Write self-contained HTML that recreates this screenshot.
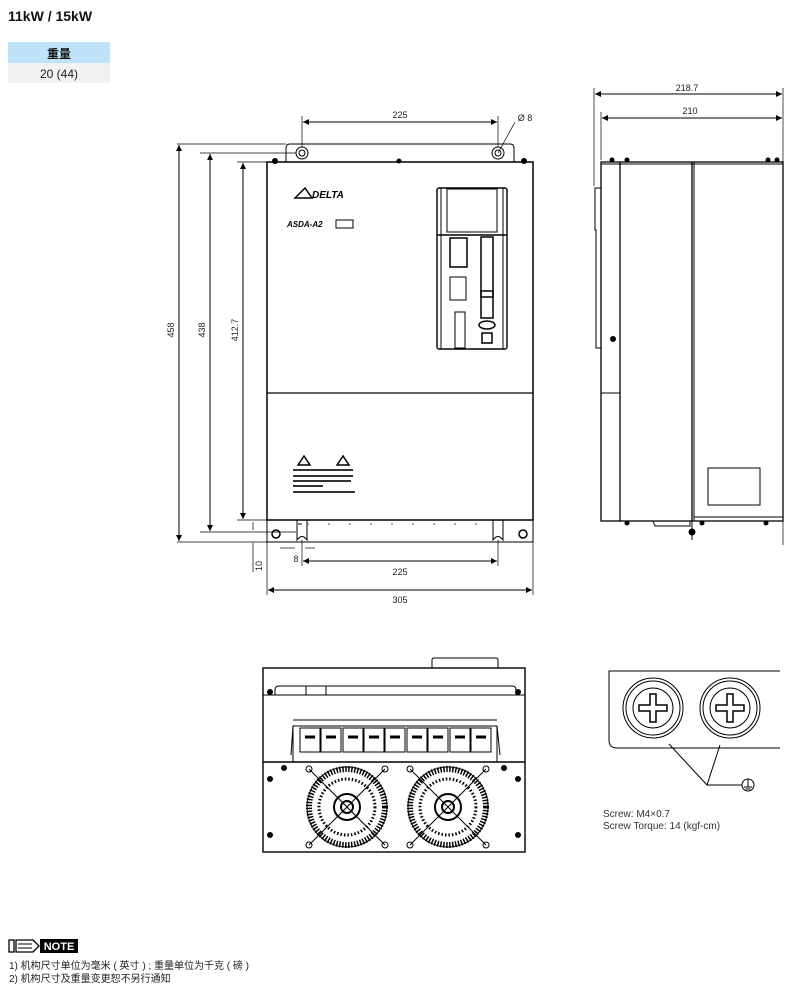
<!DOCTYPE html>
<html><head><meta charset="utf-8"><style>
html,body{margin:0;padding:0;background:#fff;}
body{width:800px;height:994px;overflow:hidden;position:relative;font-family:"Liberation Sans","Noto Sans CJK SC",sans-serif;}
</style></head><body>
<svg width="800" height="994" viewBox="0 0 800 994" xmlns="http://www.w3.org/2000/svg" style="position:absolute;left:0;top:0">
<defs>
<marker id="a" viewBox="0 0 10 10" refX="10" refY="5" markerWidth="8" markerHeight="6" orient="auto-start-reverse" markerUnits="userSpaceOnUse"><path d="M0,0L10,5L0,10z" fill="#000"/></marker>
</defs>
<g font-family="Liberation Sans,Noto Sans CJK SC,sans-serif">
<text x="8" y="21" font-size="14" font-weight="bold" fill="#111">11kW / 15kW</text>
<rect x="8" y="42" width="102" height="21" fill="#bfe3f8"/>
<rect x="8" y="63" width="102" height="20" fill="#f2f2f2"/>
<text x="59" y="58" font-size="12" font-weight="bold" text-anchor="middle" fill="#111">重量</text>
<text x="59" y="78" font-size="12" text-anchor="middle" fill="#222">20 (44)</text>
</g>

<g stroke="#000" fill="none" stroke-width="1">
<!-- front view -->
<path d="M286,162 V148 Q286,144 290,144 H510 Q514,144 514,148 V162"/>
<circle cx="302" cy="153" r="6"/><circle cx="302" cy="153" r="3"/>
<circle cx="498" cy="153" r="6"/><circle cx="498" cy="153" r="3"/>
<rect x="267" y="162" width="266" height="358" stroke-width="1.5"/>
<line x1="267" y1="393" x2="533" y2="393" stroke-width="1.3"/>
<path d="M267,520 V542 H533 V520"/>
<path d="M297,520 V540 Q302,533 307,540 V520" />
<path d="M493,520 V540 Q498,533 503,540 V520" />
<line x1="298" y1="524" x2="302" y2="524"/>
<line x1="307" y1="524" x2="492" y2="524" stroke="#555" stroke-dasharray="2,19"/>
<circle cx="276" cy="534" r="4" stroke-width="1.5"/><circle cx="523" cy="534" r="4" stroke-width="1.5"/>
<rect x="437" y="188" width="70" height="161" rx="2" stroke-width="1.4"/>
<line x1="441" y1="188" x2="441" y2="349"/><line x1="503" y1="188" x2="503" y2="349"/>
<rect x="447" y="189" width="50" height="43"/>
<line x1="437" y1="235" x2="507" y2="235" stroke-width="1.4"/>
<rect x="450" y="238" width="17" height="29" stroke-width="1.5"/>
<rect x="481" y="237" width="12" height="60" stroke-width="1.5"/>
<rect x="450" y="277" width="16" height="23"/>
<rect x="481" y="291" width="12" height="27" stroke-width="1.5"/>
<rect x="455" y="312" width="10" height="36"/>
<ellipse cx="487" cy="325" rx="8" ry="4" stroke-width="1.5"/>
<rect x="482" y="333" width="10" height="10" stroke-width="1.5"/>
<path d="M295,198 L305,188 L312,198 Z" stroke-width="1.5"/>
<rect x="311" y="203" width="0" height="0"/>
<rect x="336" y="220" width="17" height="8"/>
<circle cx="275" cy="161" r="2.5" fill="#000"/><circle cx="399" cy="161" r="2" fill="#000"/><circle cx="524" cy="161" r="2.5" fill="#000"/>
<path d="M298,465 L304,456 L310,465 Z" stroke-width="1.5"/><path d="M337,465 L343,456 L349,465 Z" stroke-width="1.5"/>
</g>
<g font-family="Liberation Sans,sans-serif" fill="#000">
<text x="312" y="198" font-size="10" font-weight="bold" font-style="italic">DELTA</text>
<text x="287" y="227" font-size="8" font-style="italic" font-weight="bold">ASDA-A2</text>
<g fill="#333"><rect x="293" y="469" width="60" height="2"/><rect x="293" y="475" width="60" height="2"/><rect x="293" y="480" width="58" height="2"/><rect x="293" y="485" width="30" height="2"/><rect x="293" y="491" width="62" height="2"/></g>
</g>

<!-- front dimensions -->
<g stroke="#000" stroke-width="1" fill="none">
<line x1="177" y1="144" x2="286" y2="144" stroke-width=".7"/>
<line x1="200" y1="153" x2="296" y2="153" stroke-width=".7"/>
<line x1="237" y1="162" x2="267" y2="162" stroke-width=".7"/>
<line x1="237" y1="520" x2="267" y2="520" stroke-width=".7"/>
<line x1="200" y1="532" x2="296" y2="532" stroke-width=".7"/>
<line x1="177" y1="542" x2="267" y2="542" stroke-width=".7"/>
<line x1="179" y1="145" x2="179" y2="541" marker-start="url(#a)" marker-end="url(#a)"/>
<line x1="210" y1="154" x2="210" y2="531" marker-start="url(#a)" marker-end="url(#a)"/>
<line x1="243" y1="163" x2="243" y2="519" marker-start="url(#a)" marker-end="url(#a)"/>
<line x1="302" y1="147" x2="302" y2="116" stroke-width=".7"/>
<line x1="498" y1="147" x2="498" y2="116" stroke-width=".7"/>
<line x1="303" y1="122" x2="497" y2="122" marker-start="url(#a)" marker-end="url(#a)"/>
<line x1="498" y1="153" x2="515" y2="122" stroke-width=".7"/>
<line x1="302" y1="540" x2="302" y2="566" stroke-width=".7"/>
<line x1="498" y1="540" x2="498" y2="566" stroke-width=".7"/>
<line x1="303" y1="561" x2="497" y2="561" marker-start="url(#a)" marker-end="url(#a)"/>
<line x1="267" y1="525" x2="267" y2="595" stroke-width=".7"/>
<line x1="533" y1="525" x2="533" y2="595" stroke-width=".7"/>
<line x1="268" y1="590" x2="532" y2="590" marker-start="url(#a)" marker-end="url(#a)"/>
<line x1="253" y1="522" x2="253" y2="530" stroke-width=".7"/>
<line x1="253" y1="543" x2="253" y2="572" stroke-width=".7"/>
<line x1="280" y1="548" x2="295" y2="548" stroke-width=".7"/>
<line x1="305" y1="548" x2="315" y2="548" stroke-width=".7"/>
</g>
<g font-family="Liberation Sans,sans-serif" font-size="9" fill="#222" text-anchor="middle">
<text x="400" y="118">225</text>
<text x="525" y="121">Ø 8</text>
<text x="400" y="575">225</text>
<text x="400" y="603">305</text>
<text x="296" y="562">8</text>
<text transform="translate(174,330) rotate(-90)">458</text>
<text transform="translate(205,330) rotate(-90)">438</text>
<text transform="translate(238,330) rotate(-90)">412.7</text>
<text transform="translate(262,566) rotate(-90)">10</text>
<text x="687" y="91">218.7</text>
<text x="690" y="114">210</text>
</g>

<!-- side view -->
<g stroke="#000" fill="none" stroke-width="1">
<line x1="594" y1="88" x2="594" y2="186" stroke-width=".7"/>
<line x1="783" y1="88" x2="783" y2="545" stroke-width=".7"/>
<line x1="601" y1="112" x2="601" y2="160" stroke-width=".7"/>
<line x1="595" y1="94" x2="782" y2="94" marker-start="url(#a)" marker-end="url(#a)"/>
<line x1="602" y1="118" x2="782" y2="118" marker-start="url(#a)" marker-end="url(#a)"/>
<rect x="601" y="162" width="182" height="359" stroke-width="1.3"/>
<line x1="620" y1="162" x2="620" y2="521" stroke-width="1.3"/>
<line x1="692" y1="162" x2="692" y2="521" stroke-width="1.3"/>
<line x1="694" y1="162" x2="694" y2="521"/>
<line x1="601" y1="164" x2="783" y2="164"/>
<line x1="601" y1="393" x2="620" y2="393"/>
<path d="M601,188 H595 V230 H596 V348 H601"/>
<rect x="708" y="468" width="52" height="37"/>
<line x1="694" y1="517" x2="783" y2="517"/>
<path d="M653,521 L655,526 L690,526 L690,521"/>
<line x1="692" y1="521" x2="692" y2="540"/>
<circle cx="692" cy="532" r="3" fill="#000"/>
<circle cx="613" cy="339" r="2.5" fill="#000"/>
<circle cx="612" cy="160" r="2" fill="#000"/><circle cx="627" cy="160" r="2" fill="#000"/><circle cx="768" cy="160" r="2" fill="#000"/><circle cx="777" cy="160" r="2" fill="#000"/>
<circle cx="627" cy="523" r="2" fill="#000"/><circle cx="702" cy="523" r="2" fill="#000"/><circle cx="766" cy="523" r="2" fill="#000"/>
</g>

<!-- bottom view -->
<g stroke="#000" fill="none" stroke-width="1">
<path d="M432,668 V660 Q432,658 434,658 H496 Q498,658 498,660 V668"/>
<rect x="263" y="668" width="262" height="184" stroke-width="1.4"/>
<line x1="263" y1="695" x2="525" y2="695"/>
<path d="M275,695 V690 Q275,686 279,686 H512 Q516,686 516,690 V695"/>
<line x1="263" y1="762" x2="525" y2="762" stroke-width="1.4"/>
<path d="M293,762 V726 H497 V762"/>
<line x1="293" y1="720" x2="497" y2="720"/>
<path d="M291,755 L293,726 M497,726 L500,755"/>
<g stroke-width="1">
<rect x="300" y="728" width="20" height="24"/><rect x="321" y="728" width="20" height="24"/><rect x="343" y="728" width="20" height="24"/><rect x="364" y="728" width="20" height="24"/><rect x="385" y="728" width="20" height="24"/><rect x="407" y="728" width="20" height="24"/><rect x="428" y="728" width="20" height="24"/><rect x="450" y="728" width="20" height="24"/><rect x="471" y="728" width="20" height="24"/>
</g>
<g stroke-width="3" stroke="#000">
<line x1="305" y1="737" x2="315" y2="737"/><line x1="326" y1="737" x2="336" y2="737"/><line x1="348" y1="737" x2="358" y2="737"/><line x1="369" y1="737" x2="379" y2="737"/><line x1="390" y1="737" x2="400" y2="737"/><line x1="412" y1="737" x2="422" y2="737"/><line x1="433" y1="737" x2="443" y2="737"/><line x1="455" y1="737" x2="465" y2="737"/><line x1="476" y1="737" x2="486" y2="737"/>
</g>
<rect x="306" y="686" width="20" height="9"/>
<circle cx="270" cy="692" r="2.5" fill="#000"/><circle cx="518" cy="692" r="2.5" fill="#000"/>
<circle cx="270" cy="779" r="2.5" fill="#000"/><circle cx="518" cy="779" r="2.5" fill="#000"/>
<circle cx="270" cy="835" r="2.5" fill="#000"/><circle cx="518" cy="835" r="2.5" fill="#000"/>
<circle cx="284" cy="768" r="2.5" fill="#000"/><circle cx="504" cy="768" r="2.5" fill="#000"/>
</g>
<g stroke="#000" fill="none">
<g>
<circle cx="347" cy="807" r="38" stroke-width="6" stroke-dasharray="1.5,1.5"/>
<circle cx="347" cy="807" r="40" stroke-width="1"/>
<circle cx="347" cy="807" r="28" stroke-width="3" stroke-dasharray="1.5,2"/>
<circle cx="347" cy="807" r="13" stroke-width="2"/>
<circle cx="347" cy="807" r="6" stroke-width="2"/>
<line x1="309" y1="769" x2="385" y2="845"/><line x1="385" y1="769" x2="309" y2="845"/>
<circle cx="309" cy="769" r="3"/><circle cx="385" cy="769" r="3"/><circle cx="309" cy="845" r="3"/><circle cx="385" cy="845" r="3"/>
</g>
<g>
<circle cx="448" cy="807" r="38" stroke-width="6" stroke-dasharray="1.5,1.5"/>
<circle cx="448" cy="807" r="40" stroke-width="1"/>
<circle cx="448" cy="807" r="28" stroke-width="3" stroke-dasharray="1.5,2"/>
<circle cx="448" cy="807" r="13" stroke-width="2"/>
<circle cx="448" cy="807" r="6" stroke-width="2"/>
<line x1="410" y1="769" x2="486" y2="845"/><line x1="486" y1="769" x2="410" y2="845"/>
<circle cx="410" cy="769" r="3"/><circle cx="486" cy="769" r="3"/><circle cx="410" cy="845" r="3"/><circle cx="486" cy="845" r="3"/>
</g>
</g>

<!-- screw detail -->
<g stroke="#000" fill="none" stroke-width="1">
<path d="M780,671 H609 V740 Q609,748 617,748 H780"/>
<circle cx="653" cy="708" r="30"/><circle cx="653" cy="708" r="27"/><circle cx="653" cy="708" r="20"/>
<circle cx="730" cy="708" r="30"/><circle cx="730" cy="708" r="27"/><circle cx="730" cy="708" r="20"/>
<path d="M650,694 h6 v11 h11 v6 h-11 v11 h-6 v-11 h-11 v-6 h11 z" stroke-width="1.5"/>
<path d="M727,694 h6 v11 h11 v6 h-11 v11 h-6 v-11 h-11 v-6 h11 z" stroke-width="1.5"/>
<polyline points="669,744 707,785 720,745"/>
<line x1="707" y1="785" x2="742" y2="785"/>
<circle cx="748" cy="785" r="6"/>
<line x1="748" y1="779" x2="748" y2="787"/><line x1="744" y1="787" x2="752" y2="787"/><line x1="745.5" y1="789" x2="750.5" y2="789"/>
</g>
<g font-family="Liberation Sans,sans-serif" font-size="10" fill="#333">
<text x="603" y="817">Screw: M4×0.7</text>
<text x="603" y="829">Screw Torque: 14 (kgf-cm)</text>
</g>

<!-- note -->
<g stroke="#000" fill="#fff" stroke-width="1.3">
<rect x="9" y="940" width="5" height="12"/>
<path d="M16,940 H33 L39,946 L33,952 H16 Z"/>
<line x1="18" y1="944" x2="32" y2="944" stroke-width="1"/><line x1="18" y1="948" x2="32" y2="948" stroke-width="1"/>
</g>
<rect x="40" y="939" width="38" height="14" fill="#000"/>
<text x="59" y="950" font-family="Liberation Sans,sans-serif" font-size="11" font-weight="bold" fill="#fff" text-anchor="middle">NOTE</text>
<g font-family="Liberation Sans,Noto Sans CJK SC,sans-serif" font-size="10" fill="#222">
<text x="9" y="969">1) 机构尺寸单位为毫米 ( 英寸 ) ; 重量单位为千克 ( 磅 )</text>
<text x="9" y="982">2) 机构尺寸及重量变更恕不另行通知</text>
</g>
</svg>
</body></html>
